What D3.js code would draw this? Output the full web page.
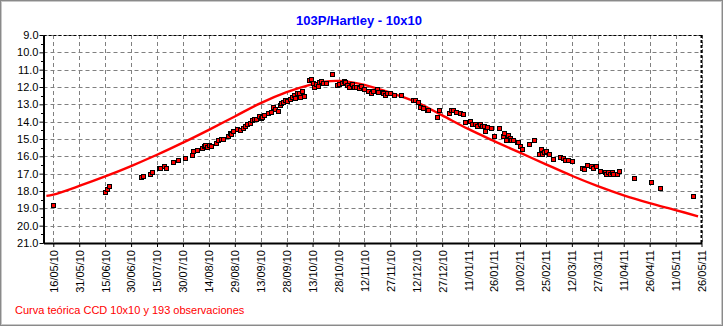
<!DOCTYPE html>
<html>
<head>
<meta charset="utf-8">
<script src="https://cdn.jsdelivr.net/npm/d3@7"></script>
<style>
  html, body { margin: 0; padding: 0; background: #fff; }
  svg { display: block; }
  text { font-family: "Liberation Sans", Arial, sans-serif; }
</style>
</head>
<body>
<svg id="chart" width="723" height="326"></svg>
<script>
// ---------- DATA ----------
const titleText = "103P/Hartley - 10x10";
const footerText = "Curva teórica CCD 10x10 y 193 observaciones";

const xTickLabels = ["16/05/10","31/05/10","15/06/10","30/06/10","15/07/10","30/07/10","14/08/10","29/08/10",
  "13/09/10","28/09/10","13/10/10","28/10/10","12/11/10","27/11/10","12/12/10","27/12/10","11/01/11",
  "26/01/11","10/02/11","25/02/11","12/03/11","27/03/11","11/04/11","26/04/11","11/05/11","26/05/11"];
const yTickLabels = ["9.0","10.0","11.0","12.0","13.0","14.0","15.0","16.0","17.0","18.0","19.0","20.0","21.0"];

const obsDates = ["2010-05-16","2010-06-15","2010-06-16","2010-06-17","2010-07-06","2010-07-07","2010-07-11","2010-07-12",
  "2010-07-16","2010-07-17","2010-07-19","2010-07-20","2010-07-24","2010-07-27","2010-07-31","2010-08-04","2010-08-05",
  "2010-08-07","2010-08-10","2010-08-11","2010-08-12","2010-08-13","2010-08-14","2010-08-15","2010-08-18","2010-08-19",
  "2010-08-21","2010-08-22","2010-08-25","2010-08-26","2010-08-27","2010-08-28","2010-08-30","2010-09-01","2010-09-03",
  "2010-09-04","2010-09-05","2010-09-07","2010-09-08","2010-09-09","2010-09-10","2010-09-12","2010-09-13","2010-09-14",
  "2010-09-15","2010-09-17","2010-09-19","2010-09-20","2010-09-21","2010-09-23","2010-09-24","2010-09-25","2010-09-26",
  "2010-09-27","2010-09-28","2010-09-30","2010-10-01","2010-10-02","2010-10-03","2010-10-04","2010-10-05","2010-10-06",
  "2010-10-07","2010-10-08","2010-10-11","2010-10-12","2010-10-13","2010-10-14","2010-10-15","2010-10-16","2010-10-17",
  "2010-10-18","2010-10-19","2010-10-21","2010-10-24","2010-10-27","2010-10-28","2010-10-30","2010-10-31","2010-11-01",
  "2010-11-02","2010-11-03","2010-11-05","2010-11-06","2010-11-07","2010-11-09","2010-11-10","2010-11-12","2010-11-14",
  "2010-11-16","2010-11-17","2010-11-19","2010-11-20","2010-11-22","2010-11-23","2010-11-24","2010-11-25","2010-11-27",
  "2010-11-29","2010-12-03","2010-12-10","2010-12-11","2010-12-13","2010-12-14","2010-12-16","2010-12-18","2010-12-19",
  "2010-12-24","2010-12-25","2010-12-31","2011-01-01","2011-01-02","2011-01-04","2011-01-06","2011-01-08","2011-01-09",
  "2011-01-12","2011-01-13","2011-01-15","2011-01-16","2011-01-18","2011-01-19","2011-01-20","2011-01-21","2011-01-22",
  "2011-01-24","2011-01-26","2011-01-29","2011-01-31","2011-02-01","2011-02-02","2011-02-03","2011-02-04","2011-02-05",
  "2011-02-06","2011-02-08","2011-02-09","2011-02-10","2011-02-11","2011-02-15","2011-02-18","2011-02-21","2011-02-22",
  "2011-02-23","2011-02-24","2011-02-25","2011-02-27","2011-03-01","2011-03-05","2011-03-07","2011-03-08","2011-03-10",
  "2011-03-12","2011-03-18","2011-03-19","2011-03-21","2011-03-23","2011-03-24","2011-03-26","2011-03-28","2011-03-31",
  "2011-04-01","2011-04-02","2011-04-03","2011-04-04","2011-04-05","2011-04-07","2011-04-08","2011-04-17","2011-04-27",
  "2011-05-02","2011-05-21"];
const obsMags = [18.83,18.08,17.89,17.73,17.18,17.12,17.04,16.92,
  16.69,16.66,16.56,16.69,16.35,16.23,16.11,15.94,15.71,
  15.65,15.54,15.41,15.33,15.48,15.33,15.41,15.25,15.06,
  14.98,15.02,14.83,14.67,14.71,14.56,14.44,14.48,14.37,
  14.25,14.14,14.10,13.90,13.86,13.86,13.67,13.79,13.75,
  13.62,13.48,13.44,13.14,13.29,13.40,13.06,12.94,12.87,
  12.75,12.79,12.71,12.60,12.48,12.64,12.37,12.33,12.56,
  12.21,12.52,11.60,11.52,11.75,11.98,11.83,11.94,11.71,
  11.63,11.75,11.79,11.25,11.87,11.83,11.79,11.63,11.71,
  11.87,11.98,11.83,11.98,11.98,12.06,11.94,12.10,12.21,
  12.37,12.25,12.10,12.29,12.29,12.37,12.44,12.33,12.37,
  12.44,12.46,12.73,12.77,12.88,13.15,13.23,13.31,13.35,
  13.73,13.35,13.50,13.31,13.35,13.42,13.50,13.58,14.04,
  13.96,14.12,14.12,14.27,14.15,14.27,14.27,14.54,14.31,
  14.35,14.81,14.38,14.85,14.65,15.08,14.77,14.92,15.08,
  15.08,15.19,15.15,15.38,15.58,15.31,15.08,15.88,15.60,
  15.84,15.73,15.69,15.85,16.15,16.06,16.12,16.23,16.23,
  16.27,16.65,16.73,16.50,16.58,16.65,16.58,16.85,16.88,
  17.00,16.88,17.00,16.92,17.00,17.04,16.85,17.27,17.50,
  17.85,18.31];

const curveDates = ["2010-05-12","2010-05-16","2010-05-31","2010-06-15","2010-06-30","2010-07-15","2010-07-30","2010-08-14",
  "2010-08-29","2010-09-13","2010-09-28","2010-10-13","2010-10-20","2010-10-28","2010-11-04","2010-11-12","2010-11-27",
  "2010-12-12","2010-12-27","2011-01-11","2011-01-26","2011-02-10","2011-02-25","2011-03-12","2011-03-27","2011-04-11",
  "2011-04-26","2011-05-11","2011-05-24"];
const curveMags = [18.28,18.21,17.71,17.16,16.56,15.91,15.21,14.47,
  13.70,12.93,12.30,11.83,11.69,11.65,11.72,11.88,12.33,
  12.87,13.64,14.42,15.12,15.79,16.46,17.12,17.72,18.25,
  18.70,19.10,19.46];

// ---------- LAYOUT ----------
const W = 723, H = 326;
const plot = { left: 43.5, right: 701.5, top: 35, bottom: 243 };
const xStart = new Date(Date.UTC(2010, 4, 10, 8));
const xEnd = new Date(Date.UTC(2011, 4, 26));
const parseISO = d3.utcParse("%Y-%m-%d");
const parseTick = d3.utcParse("%d/%m/%y");

const x = d3.scaleUtc().domain([xStart, xEnd]).range([plot.left, plot.right]);
const y = d3.scaleLinear().domain([9, 21]).range([plot.top, plot.bottom]);

const svg = d3.select("#chart");

// background and frame
svg.append("rect").attr("x", 0).attr("y", 0).attr("width", W).attr("height", H).attr("fill", "#fff");
svg.append("rect").attr("x", 0.5).attr("y", 0.5).attr("width", W - 1).attr("height", H - 1)
  .attr("fill", "none").attr("stroke", "#8a8a8a").attr("stroke-width", 1);
svg.append("rect").attr("x", 1.5).attr("y", 1.5).attr("width", W - 3).attr("height", H - 3)
  .attr("fill", "none").attr("stroke", "#c8c8c8").attr("stroke-width", 1);

// title
svg.append("text").attr("x", 359).attr("y", 25).attr("text-anchor", "middle")
  .attr("font-size", 13).attr("font-weight", "bold").attr("fill", "#0000ff").text(titleText);

// grid
const tickDates = xTickLabels.map(parseTick);
const yVals = yTickLabels.map(Number);
const grid = svg.append("g").attr("stroke", "#808080").attr("stroke-width", 1).attr("stroke-dasharray", "4,3");
tickDates.forEach(d => {
  const px = Math.round(x(d)) + 0.5;
  grid.append("line").attr("x1", px).attr("x2", px).attr("y1", plot.top).attr("y2", plot.bottom);
});
yVals.forEach(v => {
  const py = Math.round(y(v)) + 0.5;
  grid.append("line").attr("x1", plot.left).attr("x2", plot.right).attr("y1", py).attr("y2", py);
});

// top and right dashed borders
svg.append("line").attr("x1", plot.left).attr("x2", plot.right).attr("y1", plot.top + 0.5).attr("y2", plot.top + 0.5)
  .attr("stroke", "#000").attr("stroke-width", 1).attr("stroke-dasharray", "3,2");
svg.append("line").attr("x1", plot.right).attr("x2", plot.right).attr("y1", plot.top).attr("y2", plot.bottom)
  .attr("stroke", "#000").attr("stroke-width", 2).attr("stroke-dasharray", "3,2");

// theoretical curve
const curveData = curveDates.map((d, i) => ({ date: parseISO(d), mag: curveMags[i] }));
svg.append("path").datum(curveData)
  .attr("fill", "none").attr("stroke", "#ff0000").attr("stroke-width", 2.4)
  .attr("d", d3.line().x(d => x(d.date)).y(d => y(d.mag)).curve(d3.curveCatmullRom));

// observations
const obs = obsDates.map((d, i) => ({ date: parseISO(d), mag: obsMags[i] }));
svg.append("g").selectAll("rect").data(obs).join("rect")
  .attr("x", d => Math.round(x(d.date)) - 2 + 0.5)
  .attr("y", d => Math.round(y(d.mag)) - 2 + 0.5)
  .attr("width", 4).attr("height", 4)
  .attr("fill", "#ff0000").attr("stroke", "#000").attr("stroke-width", 1);

// axes
const yAxis = d3.axisLeft(y).tickValues(yVals).tickFormat((d, i) => yTickLabels[i]).tickSize(4).tickSizeOuter(0);
const gy = svg.append("g").attr("transform", `translate(${plot.left},0)`).call(yAxis);
gy.select(".domain").attr("stroke", "#000").attr("stroke-width", 2);
gy.selectAll(".tick line").attr("stroke", "#000");
gy.selectAll(".tick text").attr("font-size", 11).attr("fill", "#000").attr("x", -5)
  .attr("font-family", "'Liberation Sans', Arial, sans-serif");

// minor y ticks
const minor = d3.range(9.5, 21, 1);
svg.append("g").selectAll("line").data(minor).join("line")
  .attr("x1", plot.left - 2.5).attr("x2", plot.left)
  .attr("y1", d => Math.round(y(d)) + 0.5).attr("y2", d => Math.round(y(d)) + 0.5)
  .attr("stroke", "#000");

const xAxis = d3.axisBottom(x).tickValues(tickDates).tickFormat((d, i) => xTickLabels[i]).tickSize(4).tickSizeOuter(0);
const gx = svg.append("g").attr("transform", `translate(0,${plot.bottom})`).call(xAxis);
gx.select(".domain").attr("stroke", "#000").attr("stroke-width", 2);
gx.selectAll(".tick line").attr("stroke", "#000");
gx.selectAll(".tick text")
  .attr("font-size", 11).attr("fill", "#000")
  .attr("font-family", "'Liberation Sans', Arial, sans-serif")
  .attr("transform", "rotate(-90)")
  .attr("text-anchor", "end")
  .attr("x", -7).attr("y", 0).attr("dy", "0.35em");

// footer
svg.append("text").attr("x", 15).attr("y", 314).attr("font-size", 11).attr("fill", "#ff0000").text(footerText);
</script>
</body>
</html>
